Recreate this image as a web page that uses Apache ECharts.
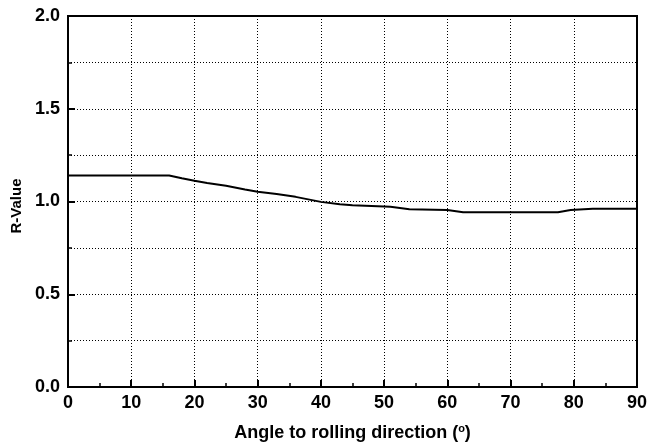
<!DOCTYPE html>
<html>
<head>
<meta charset="utf-8">
<script src="https://cdn.jsdelivr.net/npm/echarts@6/dist/echarts.min.js"></script>
<style>html,body{margin:0;padding:0;background:#fff}#c{width:659px;height:443px}</style>
</head>
<body>
<div id="c"></div>
<script>
var angles = [0, 16, 18, 20, 22, 25, 28, 30, 33, 36, 40, 43, 45, 51, 54, 60, 62.5, 77.5, 79.5, 83, 90];
var rValues = [1.14, 1.14, 1.125, 1.112, 1.10, 1.085, 1.065, 1.053, 1.04, 1.025, 0.998, 0.985, 0.98, 0.972, 0.958, 0.954, 0.942, 0.942, 0.954, 0.961, 0.961];
var yTickLabels = ['0.0', '0.5', '1.0', '1.5', '2.0'];
var xTickLabels = ['0', '10', '20', '30', '40', '50', '60', '70', '80', '90'];

var pts = angles.map(function (a, i) { return [a, rValues[i]]; });
var font = 'Liberation Sans, Arial, sans-serif';
var chart = echarts.init(document.getElementById('c'));
chart.setOption({
  animation: false,
  grid: { left: 68, right: 22, top: 16, bottom: 56, show: true, borderColor: '#000', borderWidth: 2, containLabel: false, outerBoundsMode: 'none' },
  xAxis: {
    type: 'value', min: 0, max: 90, interval: 10,
    name: '{t|Angle to rolling direction (}{s|o}{t|)}',
    nameLocation: 'middle', nameGap: 36,
    nameTextStyle: {
      rich: {
        t: { fontFamily: font, fontWeight: 'bold', fontSize: 18, color: '#000', lineHeight: 20, verticalAlign: 'middle' },
        s: { fontFamily: font, fontWeight: 'bold', fontSize: 11, color: '#000', lineHeight: 11, verticalAlign: 'top' }
      }
    },
    axisLine: { lineStyle: { color: '#000', width: 2 } },
    axisTick: { inside: true, length: 7, lineStyle: { color: '#000', width: 2 } },
    minorTick: { show: true, splitNumber: 2, length: 4, lineStyle: { color: '#000', width: 1.5 } },
    axisLabel: {
      margin: 7, color: '#000', fontFamily: font, fontWeight: 'bold', fontSize: 18,
      formatter: function (v) { return xTickLabels[Math.round(v / 10)]; }
    },
    splitLine: { show: true, lineStyle: { color: '#000', width: 1, type: [1, 2] } }
  },
  yAxis: {
    type: 'value', min: 0, max: 2, interval: 0.5,
    name: 'R-Value', nameLocation: 'middle', nameGap: 42,
    nameTextStyle: { fontFamily: font, fontWeight: 'bold', fontSize: 15, color: '#000', padding: [0, 9, 0, 0] },
    axisLine: { show: true, lineStyle: { color: '#000', width: 2 } },
    axisTick: { show: true, inside: true, length: 7, lineStyle: { color: '#000', width: 2 } },
    minorTick: { show: true, splitNumber: 2, length: 4, lineStyle: { color: '#000', width: 1.5 } },
    axisLabel: {
      margin: 8, color: '#000', fontFamily: font, fontWeight: 'bold', fontSize: 18,
      formatter: function (v) { return yTickLabels[Math.round(v / 0.5)]; }
    },
    splitLine: { show: true, lineStyle: { color: '#000', width: 1, type: [1, 2] } },
    minorSplitLine: { show: true, lineStyle: { color: '#000', width: 1, type: [1, 2] } }
  },
  series: [{
    type: 'line', data: pts, showSymbol: false, symbol: 'none',
    lineStyle: { color: '#000', width: 2 }
  }]
});
</script>
</body>
</html>
